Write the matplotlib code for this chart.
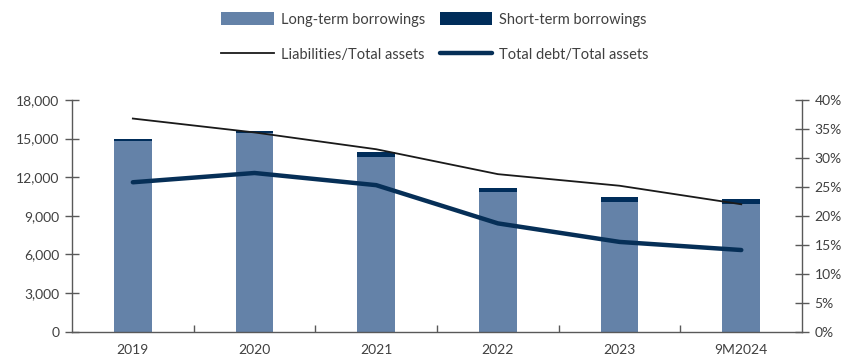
import numpy as np
import matplotlib.pyplot as plt
from matplotlib.ticker import FuncFormatter, PercentFormatter

plt.rcParams['font.family'] = ['Lato', 'DejaVu Sans']

years = ["2019", "2020", "2021", "2022", "2023", "9M2024"]
long_term = [14800, 15400, 13600, 10880, 10080, 9920]
short_term = [200, 200, 350, 300, 370, 390]
liab_ratio = [36.8, 34.4, 31.5, 27.2, 25.2, 22.0]
debt_ratio = [25.8, 27.4, 25.3, 18.7, 15.5, 14.1]

c_long = "#6482a8"
c_short = "#002d5a"
c_line = "#062f57"
c_axis = "#595959"
c_text = "#404040"

fig = plt.figure(figsize=(8.48, 3.6), dpi=100)
ax = fig.add_axes([0.0849, 0.0786, 0.861, 0.6436])
ax2 = ax.twinx()

x = np.arange(len(years))
b1 = ax.bar(x, long_term, width=0.31, color=c_long, linewidth=0,
            label="Long-term borrowings", zorder=2)
b2 = ax.bar(x, short_term, width=0.31, bottom=long_term, color=c_short, linewidth=0,
            label="Short-term borrowings", zorder=2)

l1, = ax2.plot(x, liab_ratio, color="#1a1a1a", lw=1.3, solid_joinstyle="round",
               label="Liabilities/Total assets")
l2, = ax2.plot(x, debt_ratio, color=c_line, lw=3.2, solid_joinstyle="round",
               solid_capstyle="round", label="Total debt/Total assets")

ax.set_xlim(-0.5, len(years) - 0.5)
ax.set_ylim(0, 18000)
ax.set_yticks(np.arange(0, 18001, 3000))
ax.yaxis.set_major_formatter(FuncFormatter(lambda v, p: f"{v:,.0f}"))
ax2.set_ylim(0, 40)
ax2.set_yticks(np.arange(0, 41, 5))
ax2.yaxis.set_major_formatter(PercentFormatter(decimals=0))

# category labels centred, tick marks between categories
ax.set_xticks(x)
ax.set_xticklabels(years)
ax.set_xticks(np.arange(0.5, len(years) - 0.5, 1), minor=True)
ax.tick_params(axis="x", which="major", length=0, pad=9, labelsize=10, labelcolor=c_text)
ax.tick_params(axis="x", which="minor", direction="in", length=5, color=c_axis, width=1)
ax.tick_params(axis="y", direction="inout", length=10, color=c_axis, width=1,
               labelsize=10, labelcolor=c_text, pad=4)
ax2.tick_params(axis="y", direction="inout", length=10, color=c_axis, width=1,
                labelsize=10, labelcolor=c_text, pad=4)

for a in (ax, ax2):
    a.spines["top"].set_visible(False)
    for s in ("left", "right", "bottom"):
        a.spines[s].set_color(c_axis)
        a.spines[s].set_linewidth(1)
ax.spines["right"].set_visible(False)
ax2.spines["left"].set_visible(False)
ax2.spines["bottom"].set_visible(False)

# two columns: bars on the first row, ratio lines on the second
fig.legend(handles=[b1, l1, b2, l2], loc="center", bbox_to_anchor=(0.513, 0.897), ncol=2,
           frameon=False, fontsize=10.5, handlelength=3.6, handleheight=0.9,
           handletextpad=0.5, columnspacing=1.0, labelspacing=1.45, labelcolor=c_text)

fig.savefig("out.png", dpi=100)
